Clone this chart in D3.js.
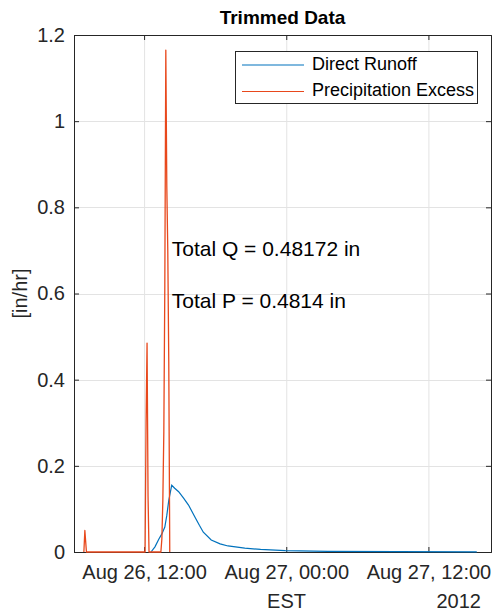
<!DOCTYPE html>
<html>
<head>
<meta charset="utf-8">
<script src="https://cdn.jsdelivr.net/npm/d3@7/dist/d3.min.js"></script>
<style>
  html, body { margin: 0; padding: 0; background: #fff; }
  svg { display: block; font-family: "Liberation Sans", Arial, Helvetica, sans-serif; }
</style>
</head>
<body>
<svg id="chart" width="499" height="616"></svg>
<script>
// ---------------- data ----------------
const titleText = "Trimmed Data";
const yLabel = "[in/hr]";
const xLabel = "EST";
const yearLabel = "2012";
const seriesNames = ["Direct Runoff", "Precipitation Excess"];
const seriesColors = ["#0072BD", "#E8481C"];

const xDomain = ["2012-08-26T06:05", "2012-08-27T17:17"];
const xTickTimes = ["2012-08-26T12:00", "2012-08-27T00:00", "2012-08-27T12:00"];
const xTickLabels = ["Aug 26, 12:00", "Aug 27, 00:00", "Aug 27, 12:00"];
const yTicks = [0, 0.2, 0.4, 0.6, 0.8, 1, 1.2];
const yTickLabels = ["0", "0.2", "0.4", "0.6", "0.8", "1", "1.2"];

const runoffTimes = [
  "2012-08-26T12:35", "2012-08-26T12:55", "2012-08-26T13:15", "2012-08-26T13:30",
  "2012-08-26T13:45", "2012-08-26T13:55", "2012-08-26T14:05", "2012-08-26T14:20",
  "2012-08-26T14:35", "2012-08-26T14:55", "2012-08-26T15:20", "2012-08-26T15:45",
  "2012-08-26T16:20", "2012-08-26T16:40", "2012-08-26T17:00", "2012-08-26T17:40",
  "2012-08-26T18:25", "2012-08-26T19:05", "2012-08-26T20:30", "2012-08-26T21:50",
  "2012-08-26T23:55", "2012-08-27T03:30", "2012-08-27T09:20", "2012-08-27T16:05"
];
const runoffValues = [
  0, 0.012, 0.03, 0.042,
  0.058, 0.085, 0.12, 0.155,
  0.148, 0.14, 0.125, 0.109,
  0.079, 0.062, 0.046, 0.028,
  0.019, 0.014, 0.009, 0.006,
  0.003, 0.0015, 0.001, 0.0005
];

const precipTimes = [
  "2012-08-26T06:55", "2012-08-26T07:00", "2012-08-26T07:08",
  "2012-08-26T12:05", "2012-08-26T12:10", "2012-08-26T12:15", "2012-08-26T12:20", "2012-08-26T12:25",
  "2012-08-26T13:25", "2012-08-26T13:30", "2012-08-26T13:35", "2012-08-26T13:40",
  "2012-08-26T13:45", "2012-08-26T13:50", "2012-08-26T13:55", "2012-08-26T14:00",
  "2012-08-26T14:05", "2012-08-26T14:10"
];
const precipValues = [
  0, 0.05, 0,
  0, 0.3, 0.485, 0.13, 0,
  0, 0.03, 0.12, 0.28,
  0.62, 1.165, 0.85, 0.7,
  0.44, 0
];

const annotTime = "2012-08-26T14:20";
const annotTexts = ["Total Q = 0.48172 in", "Total P = 0.4814 in"];
const annotY = [0.7, 0.58];

// ---------------- layout ----------------
const parse = s => new Date(s + ":00Z");
const L = 74, R = 491, T = 35, B = 552;
const svg = d3.select("#chart");
const x = d3.scaleUtc().domain(xDomain.map(parse)).range([L, R]);
const y = d3.scaleLinear().domain([0, 1.2]).range([B, T]);
const axisColor = "#262626";
const gridColor = "#e3e3e3";
const fs = 20;

// grid
svg.append("g").selectAll("line").data(xTickTimes).join("line")
  .attr("x1", d => x(parse(d)) + 0.5).attr("x2", d => x(parse(d)) + 0.5)
  .attr("y1", T).attr("y2", B).attr("stroke", gridColor);
svg.append("g").selectAll("line").data(yTicks.slice(1, -1)).join("line")
  .attr("x1", L).attr("x2", R)
  .attr("y1", d => Math.round(y(d)) + 0.5).attr("y2", d => Math.round(y(d)) + 0.5)
  .attr("stroke", gridColor);

// axes (box with inward ticks)
const xAxisB = d3.axisBottom(x).tickValues(xTickTimes.map(parse)).tickSize(-5).tickFormat((d, i) => xTickLabels[i]).tickPadding(13);
const xAxisT = d3.axisTop(x).tickValues(xTickTimes.map(parse)).tickSize(-5).tickFormat("");
const yAxisL = d3.axisLeft(y).tickValues(yTicks).tickSize(-5).tickFormat((d, i) => yTickLabels[i]).tickPadding(9);
const yAxisR = d3.axisRight(y).tickValues(yTicks).tickSize(-5).tickFormat("");

function style(g) {
  g.selectAll("path.domain").attr("stroke", axisColor);
  g.selectAll(".tick line").attr("stroke", axisColor);
  g.selectAll(".tick text").attr("fill", axisColor).attr("font-size", fs)
    .attr("font-family", "Liberation Sans, Arial, sans-serif");
}
svg.append("g").attr("transform", `translate(0,${B})`).call(xAxisB).call(style);
svg.append("g").attr("transform", `translate(0,${T})`).call(xAxisT).call(style);
svg.append("g").attr("transform", `translate(${L},0)`).call(yAxisL).call(style);
svg.append("g").attr("transform", `translate(${R},0)`).call(yAxisR).call(style);
svg.selectAll("path.domain").attr("stroke-width", 1);

// lines (drawn on top of the axes)
const line = d3.line().x(d => x(d[0])).y(d => y(d[1]));
const runoff = runoffTimes.map((t, i) => [parse(t), runoffValues[i]]);
const precip = precipTimes.map((t, i) => [parse(t), precipValues[i]]);
svg.append("path").datum(runoff).attr("d", line)
  .attr("fill", "none").attr("stroke", seriesColors[0]).attr("stroke-width", 1.2);
svg.append("path").datum(precip).attr("d", line)
  .attr("fill", "none").attr("stroke", seriesColors[1]).attr("stroke-width", 1.3)
  .attr("stroke-linejoin", "round");

// labels
svg.append("text").attr("x", (L + R) / 2).attr("y", 24).attr("text-anchor", "middle")
  .attr("font-size", 19).attr("font-weight", "bold").attr("fill", "#000").text(titleText);
svg.append("text").attr("transform", `translate(27,${(T + B) / 2}) rotate(-90)`)
  .attr("text-anchor", "middle").attr("font-size", fs).attr("fill", axisColor).text(yLabel);
svg.append("text").attr("x", (L + R) / 2 + 4).attr("y", 608).attr("text-anchor", "middle")
  .attr("font-size", fs).attr("fill", axisColor).text(xLabel);
svg.append("text").attr("x", 481).attr("y", 608).attr("text-anchor", "end")
  .attr("font-size", fs).attr("fill", axisColor).text(yearLabel);

// annotations
annotTexts.forEach((t, i) => {
  svg.append("text").attr("x", x(parse(annotTime))).attr("y", y(annotY[i]))
    .attr("dominant-baseline", "middle").attr("font-size", 21).attr("fill", "#000").text(t);
});

// legend
const lg = svg.append("g");
lg.append("rect").attr("x", 235.5).attr("y", 51.5).attr("width", 242).attr("height", 52)
  .attr("fill", "#fff").attr("stroke", axisColor).attr("stroke-width", 1);
seriesNames.forEach((n, i) => {
  const yy = 65 + i * 26.5;
  lg.append("line").attr("x1", 242).attr("x2", 304).attr("y1", yy).attr("y2", yy)
    .attr("stroke", seriesColors[i]).attr("stroke-width", 1.2);
  lg.append("text").attr("x", 312).attr("y", yy).attr("dominant-baseline", "middle")
    .attr("font-size", 18).attr("fill", "#000").text(n);
});
</script>
</body>
</html>
